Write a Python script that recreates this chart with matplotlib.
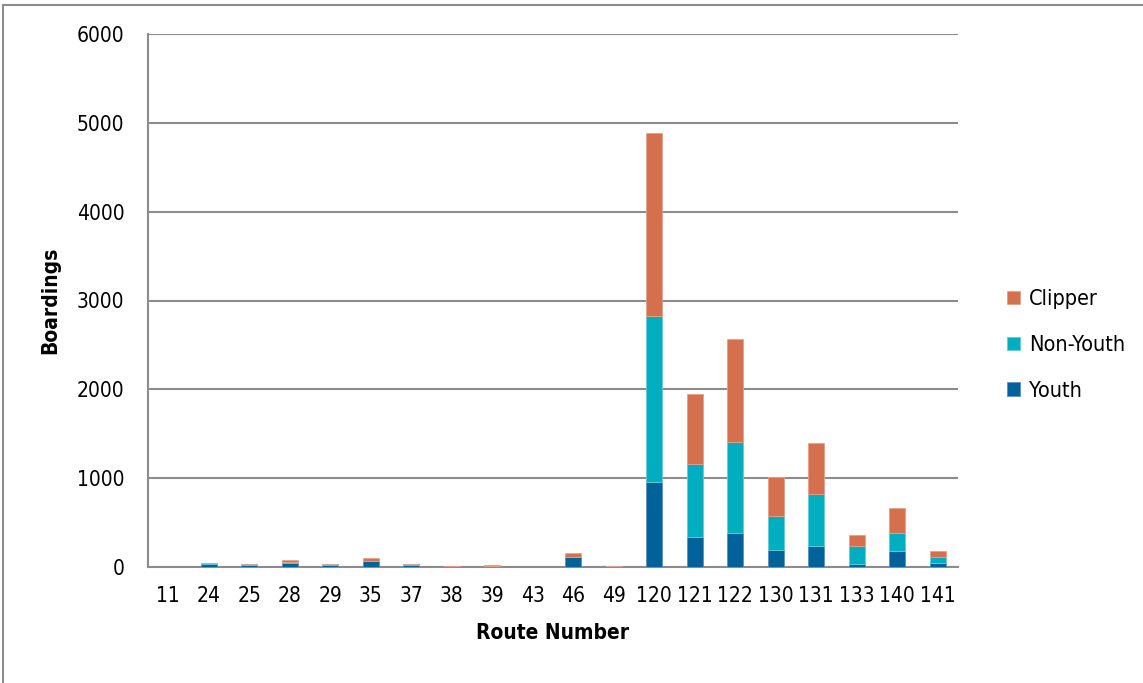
import numpy as np
import matplotlib
matplotlib.use("Agg")
import matplotlib.pyplot as plt
from matplotlib.lines import Line2D

plt.rcParams['font.family'] = ['DejaVu Sans']
plt.rcParams['font.stretch'] = 'condensed'

routes = ["11", "24", "25", "28", "29", "35", "37", "38", "39", "43",
          "46", "49", "120", "121", "122", "130", "131", "133", "140", "141"]
youth = [0, 30, 19, 48, 27, 62, 22, 0, 3, 0,
         113, 2, 961, 341, 383, 195, 240, 37, 177, 48]
non_youth = [0, 10, 12, 8, 4, 8, 10, 2, 3, 0,
             5, 8, 1866, 816, 1028, 379, 585, 199, 206, 61]
clipper = [0, 5, 3, 20, 4, 30, 3, 8, 17, 0,
           40, 4, 2063, 791, 1153, 436, 568, 128, 278, 68]

c_youth = "#00629b"
c_non = "#00aebf"
c_clip = "#d4704d"

fig = plt.figure(figsize=(11.43, 6.83), dpi=100)
ax = fig.add_axes([148/1143, 1 - 567/683, (958-148)/1143, (567-34)/683])

x = np.arange(len(routes))
youth = np.array(youth)
non_youth = np.array(non_youth)
clipper = np.array(clipper)
w = 0.4
ax.bar(x, youth, w, color=c_youth, edgecolor="#5a8fbf", linewidth=0.6, label="Youth", zorder=3)
ax.bar(x, non_youth, w, bottom=youth, color=c_non, edgecolor="#66cdd6", linewidth=0.6, label="Non-Youth", zorder=3)
ax.bar(x, clipper, w, bottom=youth + non_youth, color=c_clip, edgecolor="#e8a088", linewidth=0.6, label="Clipper", zorder=3)

ax.set_ylim(0, 6000)
ax.set_xlim(-0.5, len(routes) - 0.5)
ax.set_yticks(range(0, 6001, 1000))
ax.set_xticks(x)
ax.set_xticklabels(routes)
ax.yaxis.grid(True, color="#8c8c8c", linewidth=1.5, zorder=0)
ax.tick_params(axis="both", length=0, labelsize=15, colors="#000000")
ax.tick_params(axis="y", pad=17)
ax.tick_params(axis="x", pad=14)
for s in ["top", "right"]:
    ax.spines[s].set_visible(False)
for s in ["left", "bottom"]:
    ax.spines[s].set_color("#8c8c8c")
    ax.spines[s].set_linewidth(1.5)

ax.set_ylabel("Boardings", fontsize=15, fontweight="bold", labelpad=12)
ax.set_xlabel("Route Number", fontsize=15, fontweight="bold", labelpad=12)

h, l = ax.get_legend_handles_labels()
leg = fig.legend(h[::-1], l[::-1], loc="center left", bbox_to_anchor=(988/1143, 1 - 345/683),
                 frameon=False, fontsize=15.5, handlelength=0.6, handleheight=0.6,
                 handletextpad=0.4, labelspacing=1.2)

# chart border (left and top edges)
fig.add_artist(Line2D([3/1143, 3/1143], [0, 1 - 5/683], transform=fig.transFigure,
                      color="#8c8c8c", linewidth=1.5))
fig.add_artist(Line2D([3/1143, 1], [1 - 5/683, 1 - 5/683], transform=fig.transFigure,
                      color="#8c8c8c", linewidth=1.5))

fig.savefig("out.png", dpi=100)
